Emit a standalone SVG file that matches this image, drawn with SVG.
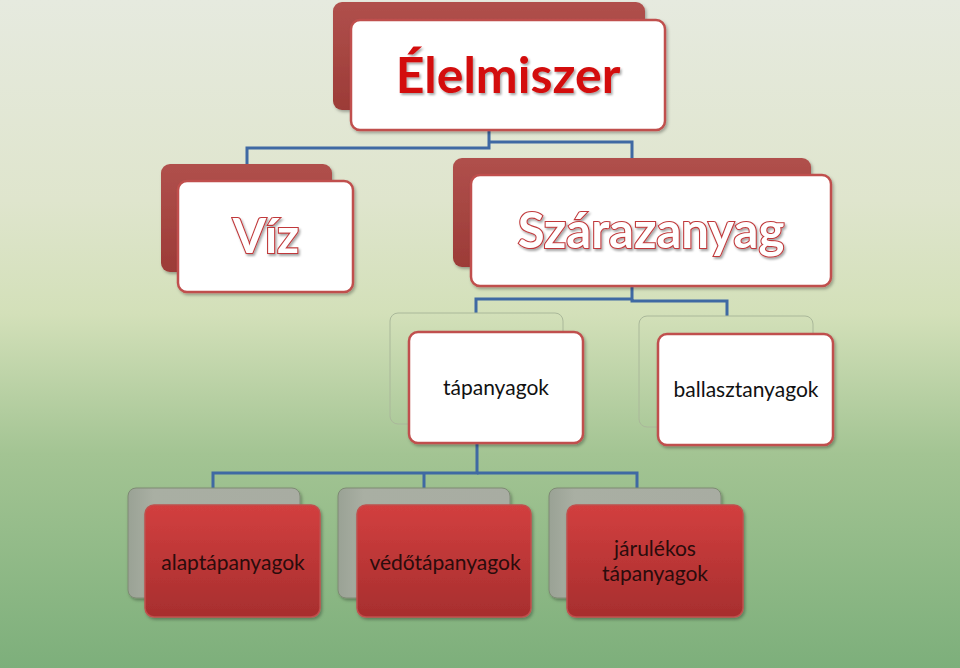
<svg xmlns="http://www.w3.org/2000/svg" width="960" height="668" viewBox="0 0 960 668">
<defs>
<linearGradient id="bg" x1="0" y1="0" x2="0" y2="1">
<stop offset="0" stop-color="#e6eadf"/>
<stop offset="0.3" stop-color="#dfe5cd"/>
<stop offset="0.47" stop-color="#d3e0b9"/>
<stop offset="0.68" stop-color="#a3c493"/>
<stop offset="1" stop-color="#7daf7b"/>
</linearGradient>
<linearGradient id="backRed" x1="0" y1="0" x2="0" y2="1">
<stop offset="0" stop-color="#b0504c"/>
<stop offset="1" stop-color="#9c3b37"/>
</linearGradient>
<linearGradient id="frontRed" x1="0" y1="0" x2="0" y2="1">
<stop offset="0" stop-color="#d23f3f"/>
<stop offset="1" stop-color="#a72e2e"/>
</linearGradient>
<linearGradient id="backGray" x1="0" y1="0" x2="1" y2="0">
<stop offset="0" stop-color="#9aa295"/>
<stop offset="0.15" stop-color="#a9afa3"/>
<stop offset="1" stop-color="#a8aca2"/>
</linearGradient>
<filter id="sh" x="-10%" y="-10%" width="125%" height="130%">
<feDropShadow dx="1.5" dy="2" stdDeviation="1.5" flood-color="#000" flood-opacity="0.3"/>
</filter>
<filter id="tsh" x="-5%" y="-10%" width="115%" height="130%">
<feDropShadow dx="1.5" dy="2" stdDeviation="1.2" flood-color="#000" flood-opacity="0.35"/>
</filter>
</defs>
<style>
.back{fill:url(#backRed);}
.front{fill:#ffffff;stroke:#c0504d;stroke-width:2.5;}
.ghost{fill:none;stroke:#aab89a;stroke-width:1;}
.gback{fill:url(#backGray);stroke:#7e8a74;stroke-width:1;}
.rfront{fill:url(#frontRed);stroke:#c0504d;stroke-width:1.5;}
.conn{fill:none;stroke:#3f69a3;stroke-width:3;}
.big{font-family:Lato,"Open Sans","Liberation Sans",sans-serif;font-weight:bold;text-anchor:middle;}
.outl{fill:#ffffff;stroke:#c0393b;stroke-width:2.2;paint-order:stroke;}
.lbl{font-family:Lato,"Open Sans","Liberation Sans",sans-serif;font-size:21px;text-anchor:middle;fill:#111;}
.lblr{font-family:Lato,"Open Sans","Liberation Sans",sans-serif;font-size:21px;text-anchor:middle;fill:#2a0c0c;}
</style>
<rect width="960" height="668" fill="url(#bg)"/>
<g id="connectors">
<polyline class="conn" points="489,130 489,148 247,148 247,164"/>
<polyline class="conn" points="489,142 632,142 632,158"/>
<polyline class="conn" points="632,286 632,299 476,299 476,313"/>
<polyline class="conn" points="632,299 632,301 727,301 727,316"/>
<polyline class="conn" points="477,443 477,473 213,473 213,488"/>
<polyline class="conn" points="424,473 424,488"/>
<polyline class="conn" points="477,473 637,473 637,488"/>
</g>
<g id="elelmiszer">
<rect class="back" x="333" y="2" width="312" height="108" rx="9" filter="url(#sh)"/>
<rect class="front" x="351" y="20" width="314" height="110" rx="9" filter="url(#sh)"/>
<text class="big" x="508" y="93" font-size="50" fill="#d30f0f" filter="url(#tsh)">Élelmiszer</text>
</g>
<g id="viz">
<rect class="back" x="161" y="164" width="171" height="108" rx="9" filter="url(#sh)"/>
<rect class="front" x="178" y="181" width="175" height="111" rx="9" filter="url(#sh)"/>
<text class="big outl" x="266" y="253" font-size="48" filter="url(#tsh)">Víz</text>
</g>
<g id="szarazanyag">
<rect class="back" x="453" y="158" width="358" height="109" rx="9" filter="url(#sh)"/>
<rect class="front" x="471" y="175" width="360" height="111" rx="9" filter="url(#sh)"/>
<text class="big outl" x="651" y="248" font-size="49" filter="url(#tsh)">Szárazanyag</text>
</g>
<g id="tapanyagok">
<rect class="ghost" x="390" y="313" width="173" height="111" rx="8"/>
<rect class="front" x="409" y="332" width="174" height="111" rx="9" filter="url(#sh)"/>
<text class="lbl" x="496" y="395">tápanyagok</text>
</g>
<g id="ballasztanyagok">
<rect class="ghost" x="639" y="316" width="174" height="111" rx="8"/>
<rect class="front" x="658" y="334" width="175" height="111" rx="9" filter="url(#sh)"/>
<text class="lbl" x="746" y="397">ballasztanyagok</text>
</g>
<g id="alaptapanyagok">
<rect class="gback" x="128" y="488" width="172" height="110" rx="8" filter="url(#sh)"/>
<rect class="rfront" x="145" y="505" width="175" height="112" rx="9" filter="url(#sh)"/>
<text class="lblr" x="233" y="570">alaptápanyagok</text>
</g>
<g id="vedotapanyagok">
<rect class="gback" x="338" y="488" width="172" height="110" rx="8" filter="url(#sh)"/>
<rect class="rfront" x="357" y="505" width="174" height="112" rx="9" filter="url(#sh)"/>
<text class="lblr" x="445" y="570">védőtápanyagok</text>
</g>
<g id="jarulekos">
<rect class="gback" x="549" y="488" width="172" height="110" rx="8" filter="url(#sh)"/>
<rect class="rfront" x="567" y="505" width="176" height="112" rx="9" filter="url(#sh)"/>
<text class="lblr" x="655" y="556">járulékos</text>
<text class="lblr" x="655" y="581">tápanyagok</text>
</g>
</svg>
